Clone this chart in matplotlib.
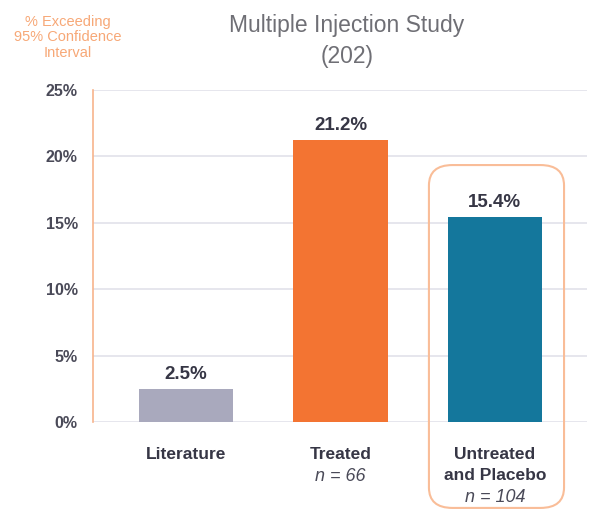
import matplotlib
matplotlib.use('Agg')
import matplotlib.pyplot as plt
from matplotlib.patches import FancyBboxPatch

# data
categories = ['Literature', 'Treated', 'Untreated\nand Placebo']
sample_sizes = [None, 66, 104]
pct_exceeding = [2.5, 21.2, 15.4]
y_ticks = [0, 5, 10, 15, 20, 25]

bar_colors = ['#a9a9bd', '#f37432', '#14779c']
text_dark = '#363645'
orange_light = '#f7a877'

plt.rcParams['font.family'] = ['Liberation Sans', 'DejaVu Sans']

fig = plt.figure(figsize=(5.9, 5.11), dpi=100)
ax = fig.add_axes([0.1576, 0.174, 0.837, 0.650])

x = list(range(len(categories)))
ax.bar(x, pct_exceeding, width=0.61, color=bar_colors, zorder=3)

for xi, v in zip(x, pct_exceeding):
    ax.annotate(f'{v}%', (xi, v), xytext=(0, 4.5), textcoords='offset points',
                ha='center', va='bottom', fontsize=13.5, fontweight='bold',
                color=text_dark)

ax.set_xlim(-0.602, 2.595)
ax.set_ylim(0, 25)
ax.set_yticks(y_ticks)
ax.set_yticklabels([f'{t}%' for t in y_ticks], fontsize=11.5,
                   fontweight='bold', color='#4a4a58')
ax.yaxis.grid(True, color='#e1e1ea', linewidth=1.2, zorder=0)
ax.tick_params(axis='y', length=0, pad=11)
ax.tick_params(axis='x', length=0)
ax.set_xticks([])

for side in ['top', 'right', 'bottom']:
    ax.spines[side].set_visible(False)
ax.spines['left'].set_color('#f7b48c')
ax.spines['left'].set_linewidth(1.2)

# category labels under the bars, one line at a time (offsets in points)
for xi, cat, n in zip(x, categories, sample_sizes):
    lines = cat.split('\n')
    for k, line in enumerate(lines):
        ax.annotate(line, (xi, 0), xytext=(0, -23 - 15.5 * k),
                    textcoords='offset points', ha='center', va='center',
                    fontsize=12.5, fontweight='bold', color=text_dark,
                    annotation_clip=False)
    if n is not None:
        ax.annotate(f'n = {n}', (xi, 0), xytext=(0, -23.5 - 15.5 * len(lines)),
                    textcoords='offset points', ha='center', va='center',
                    fontsize=13, fontstyle='italic', color='#4a4a58',
                    annotation_clip=False)

# rounded highlight box around the last group
box = FancyBboxPatch((0.727, 0.006), 0.229, 0.671,
                     boxstyle='round,pad=0,rounding_size=0.04',
                     transform=fig.transFigure, fill=False,
                     edgecolor='#f9bd98', linewidth=1.5, zorder=5)
fig.patches.append(box)

fig.text(0.588, 0.951, 'Multiple Injection Study', ha='center', va='center',
         fontsize=16.5, color='#6f6f75')
fig.text(0.588, 0.889, '(202)', ha='center', va='center',
         fontsize=16.5, color='#6f6f75')

fig.text(0.115, 0.927, '% Exceeding\n95% Confidence\nInterval', ha='center',
         va='center', fontsize=10.5, color=orange_light, linespacing=1.15)

fig.savefig('out.png', dpi=100)
